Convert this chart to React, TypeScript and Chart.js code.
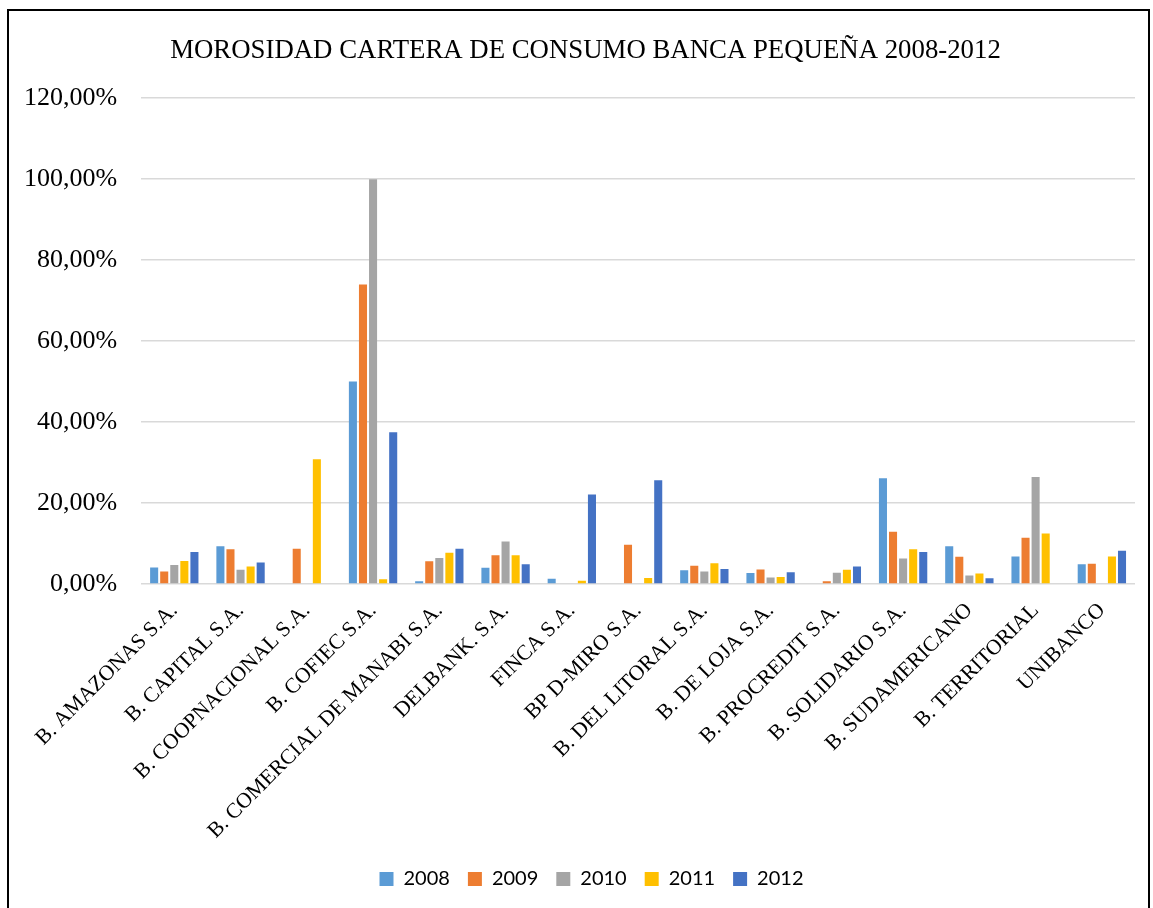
import React, { useEffect, useRef } from "react";
import { Chart, registerables } from "chart.js";

Chart.register(...registerables);

const categories = [
  "B. AMAZONAS S.A.",
  "B. CAPITAL S.A.",
  "B. COOPNACIONAL S.A.",
  "B. COFIEC S.A.",
  "B. COMERCIAL DE MANABI S.A.",
  "DELBANK. S.A.",
  "FINCA S.A.",
  "BP D-MIRO S.A.",
  "B. DEL LITORAL S.A.",
  "B. DE LOJA S.A.",
  "B. PROCREDIT S.A.",
  "B. SOLIDARIO S.A.",
  "B. SUDAMERICANO",
  "B. TERRITORIAL",
  "UNIBANCO",
];

const years = ["2008", "2009", "2010", "2011", "2012"];
const colors = ["#5b9bd5", "#ed7d31", "#a5a5a5", "#ffc000", "#4472c4"];

const v2008 = [4.1, 9.3, 0, 50.0, 0.7, 4.0, 1.3, 0, 3.4, 2.7, 0, 26.1, 9.3, 6.8, 4.9];
const v2009 = [3.1, 8.6, 8.7, 74.0, 5.6, 7.1, 0, 9.7, 4.5, 3.6, 0.7, 12.9, 6.7, 11.4, 5.0];
const v2010 = [4.7, 3.5, 0, 100.0, 6.4, 10.5, 0, 0, 3.1, 1.6, 2.8, 6.3, 2.1, 26.4, 0];
const v2011 = [5.7, 4.3, 30.8, 1.2, 7.7, 7.1, 0.8, 1.5, 5.1, 1.7, 3.5, 8.6, 2.6, 12.5, 6.8];
const v2012 = [7.9, 5.3, 0.2, 37.5, 8.7, 4.9, 22.1, 25.6, 3.7, 2.9, 4.3, 7.9, 1.4, 0, 8.2];

const seriesValues = [v2008, v2009, v2010, v2011, v2012];

const yTicks = [0, 20, 40, 60, 80, 100, 120];

const shiftBlocks = {
  id: "shiftBlocks",
  afterLayout(chart: any) {
    const lg = chart.legend;
    if (lg) {
      lg.left += 12;
      lg.right += 12;
    }
    const tb = chart.titleBlock;
    if (tb) {
      tb.left += 6;
      tb.right += 6;
    }
  },
};

export default function App() {
  const ref = useRef<HTMLCanvasElement | null>(null);

  useEffect(() => {
    if (!ref.current) return;
    const chart = new Chart(ref.current, {
      type: "bar",
      data: {
        labels: categories,
        datasets: years.map((y, i) => ({
          label: y,
          data: seriesValues[i],
          backgroundColor: colors[i],
          borderWidth: 0,
          barPercentage: 0.8,
          categoryPercentage: 0.76,
        })),
      },
      plugins: [shiftBlocks],
      options: {
        animation: false,
        responsive: false,
        maintainAspectRatio: false,
        layout: { padding: { left: 15, right: 13, top: 6, bottom: 18 } },
        plugins: {
          title: {
            display: true,
            text: "MOROSIDAD CARTERA DE CONSUMO BANCA PEQUEÑA 2008-2012",
            color: "#000",
            font: { family: "Liberation Serif", size: 26.8, weight: "normal" },
            padding: { top: 18, bottom: 31 },
          },
          legend: {
            position: "bottom",
            labels: {
              color: "#000",
              font: { family: "Lato", size: 20 },
              boxWidth: 14,
              boxHeight: 14,
              padding: 18,
            },
          },
          tooltip: { enabled: false },
        },
        scales: {
          x: {
            grid: { display: false },
            border: { display: false },
            afterFit: (axis: any) => {
              axis.height = 267;
              axis.paddingLeft = 0;
              axis.paddingRight = 0;
            },
            ticks: {
              color: "#000",
              font: { family: "Liberation Serif", size: 21.5 },
              minRotation: 45,
              maxRotation: 45,
              autoSkip: false,
              padding: 6,
            },
          },
          y: {
            min: 0,
            max: 120,
            afterBuildTicks: (axis: any) => {
              axis.ticks = yTicks.map((v) => ({ value: v }));
            },
            afterFit: (axis: any) => {
              axis.width = axis.width - axis.options.ticks.padding;
            },
            grid: { color: "#d9d9d9", lineWidth: 1.5, drawTicks: false },
            border: { display: false },
            ticks: {
              color: "#000",
              font: { family: "Liberation Serif", size: 26 },
              padding: 24,
              callback: (v: any) => Number(v).toFixed(2).replace(".", ",") + "%",
            },
          },
        },
      },
    });
    return () => chart.destroy();
  }, []);

  return (
    <div
      style={{
        position: "fixed",
        left: 7,
        top: 9,
        width: 1143,
        height: 910,
        border: "2px solid #000",
        background: "#fff",
        boxSizing: "border-box",
      }}
    >
      <canvas ref={ref} width={1139} height={906} style={{ display: "block" }} />
    </div>
  );
}
